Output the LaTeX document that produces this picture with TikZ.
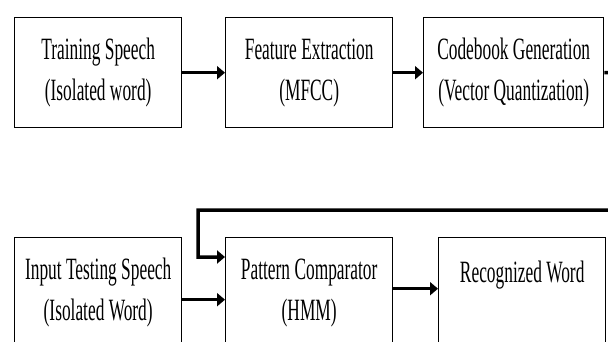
\documentclass[tikz,border=0pt]{standalone}
\usepackage{fontspec}
\newfontfamily\boxfont[FakeStretch=0.56]{Liberation Serif}
\usetikzlibrary{arrows.meta}
\begin{document}
\begin{tikzpicture}[x=1pt,y=-1pt,
  box/.style={draw, line width=1.4pt, minimum width=167pt, minimum height=110pt,
    inner sep=0pt, align=center, anchor=north west,
    font=\boxfont\fontsize{31}{41}\selectfont},
  arr/.style={line width=3.5pt, -{Triangle[length=8pt,width=13pt]}}]
\useasboundingbox (0,0) rectangle (608,342);
\clip (0,0) rectangle (608,342);
\node[box] (b1) at (14,17) {Training Speech\\(Isolated word)};
\node[box] (b2) at (225,17) {Feature Extraction\\(MFCC)};
\node[box, minimum width=180pt] (b3) at (423,17) {Codebook Generation\\(Vector Quantization)};
\node[box] (b4) at (14,237) {Input Testing Speech\\(Isolated Word)};
\node[box] (b5) at (225,237) {Pattern Comparator\\(HMM)};
\node[box] (b6) at (438,237) {Recognized Word\\\mbox{}};
\coordinate (r1) at (630,72);
\coordinate (r2) at (630,210);
\coordinate (fb) at (198,210);
\draw[arr] (b1.east) -- (b2.west);
\draw[arr] (b2.east) -- (b3.west);
\draw[arr] ([yshift=-7pt]b4.east) -- ([yshift=-7pt]b5.west);
\draw[arr] ([yshift=4pt]b5.east) -- ([yshift=4pt]b6.west);
\draw[arr] (b3.east) -- (r1) -- (r2) -- (fb) -- (fb |- 0,257) -- (b5.west |- 0,257);
\end{tikzpicture}
\end{document}
